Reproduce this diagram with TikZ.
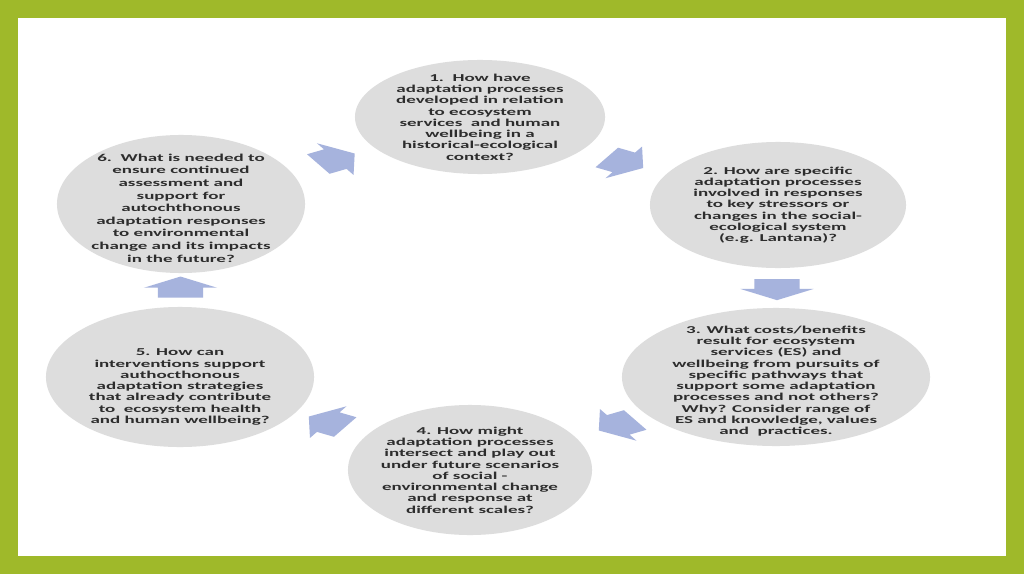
\documentclass[tikz,border=0pt]{standalone}
\usepackage{fontspec}
\newfontfamily\qfont{Carlito}[FakeStretch=1.8]
\usetikzlibrary{shapes.geometric, shapes.arrows, calc}
\definecolor{FrameGreen}{RGB}{159, 185, 42}
\definecolor{BubbleGrey}{RGB}{221, 221, 221}
\definecolor{ArrowBlue}{RGB}{166, 179, 221}
\definecolor{TextInk}{RGB}{45, 45, 45}

\tikzset{
  bubble/.style={ellipse, fill=BubbleGrey, draw=none, inner sep=0pt},
  question/.style={align=center, text=TextInk, inner sep=0pt,
    font=\qfont\bfseries\fontsize{7.5}{8}\selectfont},
  cyclearrow/.style={single arrow, fill=ArrowBlue, draw=none,
    inner xsep=0pt, inner ysep=0.275cm, minimum width=0pt, minimum height=0.525cm,
    single arrow head extend=0.175cm, single arrow tip angle=117, xscale=2}
}

\begin{document}
\begin{tikzpicture}[x=0.025cm, y=0.025cm]
      % Frame
      \fill[FrameGreen] (0,0) rectangle (1024,574);
      \fill[white] (18,18) rectangle (1006,556);

      % Bubbles
      \node[bubble, minimum width=6.25cm, minimum height=2.85cm] (q1) at (480,457) {};
      \node[bubble, minimum width=6.4cm, minimum height=3.15cm] (q2) at (778,369) {};
      \node[bubble, minimum width=7.7cm, minimum height=3.45cm] (q3) at (776,197) {};
      \node[bubble, minimum width=6.1cm, minimum height=3.25cm] (q4) at (470,104) {};
      \node[bubble, minimum width=6.7cm, minimum height=3.5cm] (q5) at (180,197) {};
      \node[bubble, minimum width=6.2cm, minimum height=3.45cm] (q6) at (181,370) {};

      % Questions
      \node[question] (t1) at (q1) {1.\ \ How have\\adaptation processes\\developed in relation\\to ecosystem\\services\ \ and human\\wellbeing in a\\historical-ecological\\context?};
      \node[question] (t2) at (q2) {2. How are specific\\adaptation processes\\involved in responses\\to key stressors or\\changes in the social-\\ecological system\\(e.g. Lantana)?};
      \node[question] (t3) at ([yshift=-0.1cm]q3) {3. What costs/benefits\\result for ecosystem\\services (ES) and\\wellbeing from pursuits of\\specific pathways that\\support some adaptation\\processes and not others?\\Why? Consider range of\\ES and knowledge, values\\and\ \ practices.};
      \node[question] (t4) at (q4) {4. How might\\adaptation processes\\intersect and play out\\under future scenarios\\of social -\\environmental change\\and response at\\different scales?};
      \node[question] (t5) at ([yshift=-0.25cm]q5) {5. How can\\interventions support\\authocthonous\\adaptation strategies\\that already contribute\\to\ \ ecosystem health\\and human wellbeing?};
      \node[question, font=\qfont\bfseries\fontsize{7.5}{9}\selectfont] (t6) at ([yshift=-0.1cm]q6) {6.\ \ What is needed to\\ensure continued\\assessment and\\support for\\autochthonous\\adaptation responses\\to environmental\\change and its impacts\\in the future?};

      % Cycle arrows
      \node[cyclearrow, rotate=-30] (a12) at ([xshift=-0.25cm]$(q1)!0.5!(q2)$) {};
      \node[cyclearrow, rotate=-90] (a23) at ([yshift=0.12cm]$(q2)!0.5!(q3)$) {};
      \node[cyclearrow, rotate=-150] (a34) at ($(q3)!0.5!(q4)$) {};
      \node[cyclearrow, rotate=150] (a45) at ([xshift=0.2cm]$(q4)!0.5!(q5)$) {};
      \node[cyclearrow, rotate=90] (a56) at ($(q5)!0.5!(q6)$) {};
      \node[cyclearrow, rotate=30] (a61) at ($(q6)!0.5!(q1)$) {};
    \end{tikzpicture}
\end{document}
